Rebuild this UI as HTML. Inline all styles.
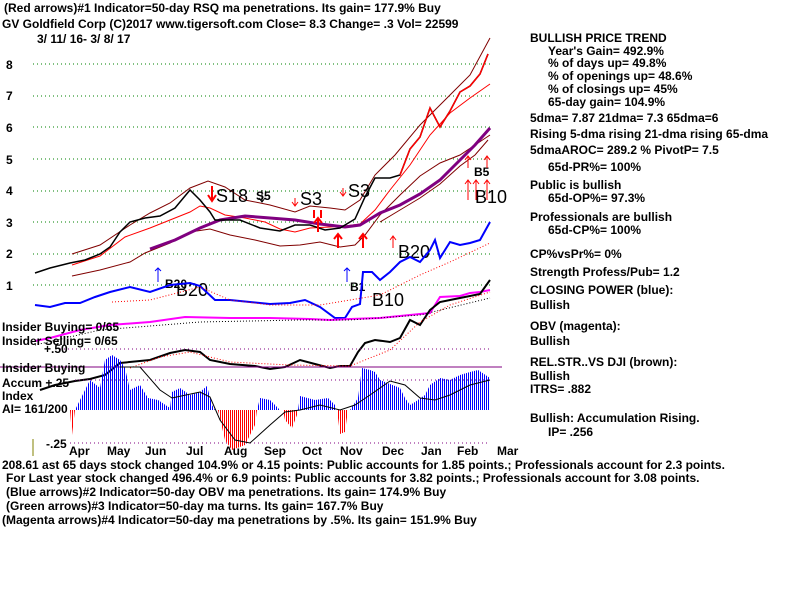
<!DOCTYPE html>
<html><head><meta charset="utf-8"><style>
body{margin:0;background:#fff;width:800px;height:600px;overflow:hidden}
svg{display:block}
text{font-family:"Liberation Sans",sans-serif;font-weight:bold;font-size:12px;fill:#000}
.big{font-weight:normal;font-size:18px}
</style></head><body>
<svg width="800" height="600" viewBox="0 0 800 600">
<defs>
<pattern id="pb" width="2" height="4" patternUnits="userSpaceOnUse"><rect width="1" height="4" fill="#0000ff"/></pattern>
<pattern id="pr" width="2" height="4" patternUnits="userSpaceOnUse"><rect width="1" height="4" fill="#ff0000"/></pattern>
</defs>
<text x="4" y="12">(Red arrows)#1 Indicator=50-day RSQ ma penetrations. Its gain= 177.9% Buy</text>
<text x="2" y="28">GV   Goldfield Corp  (C)2017 www.tigersoft.com     Close=  8.3  Change= .3 Vol= 22599</text>
<text x="37" y="43">3/ 11/ 16- 3/ 8/ 17</text>
<g stroke="#008000" stroke-dasharray="1,3">
<line x1="33" x2="490" y1="64" y2="64"/><line x1="33" x2="490" y1="96" y2="96"/>
<line x1="33" x2="490" y1="127" y2="127"/><line x1="33" x2="490" y1="159" y2="159"/>
<line x1="33" x2="490" y1="191" y2="191"/><line x1="33" x2="490" y1="222" y2="222"/>
<line x1="33" x2="490" y1="254" y2="254"/><line x1="33" x2="490" y1="285" y2="285"/>
</g>
<g font-size="12"><text x="6" y="69">8</text><text x="6" y="100">7</text><text x="6" y="132">6</text><text x="6" y="164">5</text><text x="6" y="195">4</text><text x="6" y="227">3</text><text x="6" y="258">2</text><text x="6" y="290">1</text></g>
<polyline fill="none" stroke="#800000" points="72,254 100,245 130,225 150,213 170,203 190,188 208,181 225,187 245,200 270,205 295,212 310,206 330,208 345,210 360,200 375,175 395,155 420,125 445,100 470,75 490,38"/>
<polyline fill="none" stroke="#800000" points="72,276 100,270 130,262 145,253 170,243 190,232 210,229 230,235 255,240 280,246 300,245 320,242 340,247 355,245 365,235 380,215 400,195 420,176 440,163 460,155 475,145 490,135"/>
<polyline fill="none" stroke="#ff0000" points="72,265 100,256 125,237 150,228 170,220 190,212 200,206 210,208 225,215 245,218 265,222 280,229 295,232 310,228 330,227 345,226 360,224 375,210 390,190 410,165 430,135 450,113 470,98 490,84"/>
<polyline fill="none" stroke="#800080" stroke-width="3" points="150,249 175,240 200,228 220,220 245,216 270,218 295,220 320,224 345,227 360,225 380,213 400,205 420,194 440,180 460,160 475,145 490,128"/>
<polyline fill="none" stroke="#800000" points="380,222 400,210 420,198 440,184 460,166 475,155 488,140"/>
<polyline fill="none" stroke="#000" stroke-width="1.5" points="35,273 50,268 70,263 85,260 100,254 110,247 120,232 130,222 145,218 160,216 175,208 190,190 200,200 210,212 215,220 240,220 260,228 280,231 295,225 310,225 325,230 340,228 355,219 365,197 375,178 390,178 400,175 410,149 420,137 430,108 440,127 450,111 460,92 470,86 480,74 488,54"/>
<polyline fill="none" stroke="#ff0000" stroke-width="1.5" points="400,175 410,149 420,137 430,108 440,127 450,111 460,92 470,86 480,74 488,54"/>
<text x="216" y="202" class="big">S18</text><text x="256" y="200" font-size="15" font-weight="normal">S5</text>
<text x="300" y="205" class="big">S3</text><text x="348" y="197" class="big">S3</text>
<text x="398" y="258" class="big">B20</text><text x="474" y="176" font-size="15" font-weight="normal">B5</text>
<text x="475" y="203" class="big">B10</text>
<text x="165" y="288" font-size="15" font-weight="normal">B20</text><text x="176" y="296" class="big">B20</text>
<text x="350" y="291" font-size="15" font-weight="normal">B1</text><text x="372" y="306" class="big">B10</text>
<g stroke="#ff0000" stroke-width="2" fill="none">
<path d="M212,186v14M208,195l4,6 4,-6"/><path d="M318,232v-14M314,223l4,-5 4,5"/><path d="M338,248v-14M334,239l4,-5 4,5"/>
<path d="M363,248v-14M359,239l4,-5 4,5"/><path d="M314,210v8M321,210v8"/>
</g>
<g stroke="#ff0000" fill="none"><path d="M393,248v-12M390,240l3,-4 3,4"/><path d="M468,200v-20M465,184l3,-4 3,4"/><path d="M476,200v-20M473,184l3,-4 3,4"/><path d="M487,200v-20M484,184l3,-4 3,4"/><path d="M487,168v-12M484,160l3,-4 3,4"/><path d="M468,168v-12M465,160l3,-4 3,4"/><path d="M343,188v8M340,192l3,4 3,-4"/><path d="M295,198v8M292,202l3,4 3,-4"/></g>
<g stroke="#000" fill="none"><path d="M262,190v12M259,198l3,4 3,-4"/></g>
<g stroke="#0000ff" fill="none"><path d="M158,282v-14M155,271l3,-3 3,3"/><path d="M347,282v-14M344,271l3,-3 3,3"/></g>
<polyline fill="none" stroke="#0000ff" stroke-width="2" points="35,305 50,307 65,303 80,303 95,297 110,292 130,287 150,292 170,285 190,283 200,286 215,300 230,300 250,302 270,304 290,303 305,300 320,307 335,318 345,318 352,307 360,304 363,272 372,272 380,280 390,272 400,262 410,257 420,262 430,250 435,240 440,258 450,242 460,245 470,243 480,240 490,222"/>
<polyline fill="none" stroke="#ff0000" stroke-dasharray="1,2" points="112,302 150,300 200,287 230,300 270,305 320,305 350,300 380,295 420,275 450,262 490,243"/>
<polyline fill="none" stroke="#ff00ff" stroke-width="2" points="35,341 50,338 80,330 110,325 150,322 185,317 230,318 270,318 310,319 330,320 350,319 380,318 400,316 430,313 440,297 460,296 470,293 480,292 490,290"/>
<polyline fill="none" stroke="#000" stroke-dasharray="1,2" points="35,345 100,330 200,322 300,320 350,320 420,315 490,298"/>
<polyline fill="none" stroke="#000" stroke-width="2" points="40,390 55,385 75,381 90,379 105,375 120,363 150,360 170,353 185,350 200,352 210,360 230,364 255,366 270,369 285,367 300,360 315,364 330,368 340,366 350,366 358,352 365,343 375,340 390,342 400,338 410,320 420,325 430,310 440,302 460,298 480,294 490,280"/>
<polyline fill="none" stroke="#ff0000" stroke-dasharray="1,2" points="130,368 160,357 190,352 230,362 290,365 350,366 390,350 420,322 450,305 490,292"/>
<g stroke="#800080" stroke-dasharray="1,3"><line x1="60" x2="490" y1="349" y2="349"/><line x1="75" x2="490" y1="380" y2="380"/><line x1="70" x2="490" y1="443" y2="443"/></g>
<line x1="0" x2="502" y1="367" y2="367" stroke="#800080"/>
<polygon fill="url(#pb)" points="75,410 80,400 90,380 100,388 105,360 112,355 120,360 125,368 130,390 140,385 148,398 158,400 170,408 172,392 180,388 190,395 200,392 207,386 212,405 215,410"/>
<polygon fill="url(#pr)" points="70,410 72,435 75,410"/>
<polygon fill="url(#pr)" points="218,410 225,440 232,450 245,445 255,425 257,410"/>
<polygon fill="url(#pb)" points="257,410 260,398 270,400 275,405 280,410"/>
<polygon fill="url(#pr)" points="283,410 285,420 292,428 297,415 298,410"/>
<polygon fill="url(#pb)" points="298,410 300,396 315,400 328,398 335,405 336,410"/>
<polygon fill="url(#pr)" points="337,410 340,434 345,432 348,410"/>
<polygon fill="url(#pb)" points="350,410 358,398 362,368 370,370 375,372 380,380 390,384 400,388 405,398 410,405 415,402 425,395 430,385 440,378 450,380 460,375 470,372 478,370 490,378 490,410"/>
<polyline fill="none" stroke="#000" points="120,367 140,367 160,390 172,398 200,392 210,397 220,420 235,440 250,443 270,425 285,412 300,410 320,405 340,410 355,405 370,395 390,381 405,385 420,398 435,400 450,395 470,385 490,380"/>
<line x1="33" x2="33" y1="439" y2="456" stroke="#808000"/>
<text x="2" y="331">Insider Buying= 0/65</text><text x="2" y="345">Insider Selling= 0/65</text>
<text x="44" y="353">+.50</text><text x="2" y="372">Insider Buying</text>
<text x="2" y="387">Accum  +.25</text><text x="2" y="400">Index</text><text x="2" y="413">AI= 161/200</text>
<text x="46" y="448">-.25</text>
<g><text x="69" y="455">Apr</text><text x="107" y="455">May</text><text x="145" y="455">Jun</text><text x="186" y="455">Jul</text><text x="224" y="455">Aug</text><text x="264" y="455">Sep</text><text x="302" y="455">Oct</text><text x="340" y="455">Nov</text><text x="382" y="455">Dec</text><text x="421" y="455">Jan</text><text x="457" y="455">Feb</text><text x="497" y="455">Mar</text></g>
<text x="2" y="469">208.61 ast 65 days stock changed  104.9% or  4.15 points:  Public accounts for  1.85 points.;  Professionals account for  2.3 points.</text>
<text x="6" y="482">For Last year stock changed  496.4% or  6.9 points:  Public accounts for  3.82 points.;  Professionals account for  3.08 points.</text>
<text x="6" y="496">(Blue arrows)#2 Indicator=50-day OBV ma penetrations. Its gain= 174.9% Buy</text>
<text x="6" y="510">(Green arrows)#3 Indicator=50-day ma turns. Its gain= 167.7% Buy</text>
<text x="2" y="524">(Magenta arrows)#4 Indicator=50-day ma penetrations by .5%. Its gain= 151.9% Buy</text>
<g>
<text x="530" y="42">BULLISH PRICE TREND</text>
<text x="548" y="55">Year's Gain= 492.9%</text>
<text x="548" y="67">% of days up= 49.8%</text>
<text x="548" y="80">% of openings up= 48.6%</text>
<text x="548" y="93">% of closings up= 45%</text>
<text x="548" y="106">65-day gain= 104.9%</text>
<text x="530" y="122">5dma= 7.87 21dma= 7.3 65dma=6</text>
<text x="530" y="138">Rising 5-dma  rising 21-dma  rising 65-dma</text>
<text x="530" y="154">5dmaAROC= 289.2 %  PivotP= 7.5</text>
<text x="548" y="171">65d-PR%= 100%</text>
<text x="530" y="189">Public is bullish</text>
<text x="548" y="202">65d-OP%= 97.3%</text>
<text x="530" y="221">Professionals are bullish</text>
<text x="548" y="234">65d-CP%= 100%</text>
<text x="530" y="258">CP%vsPr%=  0%</text>
<text x="530" y="276">Strength Profess/Pub= 1.2</text>
<text x="530" y="294">CLOSING POWER (blue):</text>
<text x="530" y="309">Bullish</text>
<text x="530" y="330">OBV (magenta):</text>
<text x="530" y="345">Bullish</text>
<text x="530" y="366">REL.STR..VS DJI (brown):</text>
<text x="530" y="380">Bullish</text>
<text x="530" y="393">ITRS= .882</text>
<text x="530" y="422">Bullish: Accumulation Rising.</text>
<text x="548" y="436">IP=  .256</text>
</g>
</svg>
</body></html>
